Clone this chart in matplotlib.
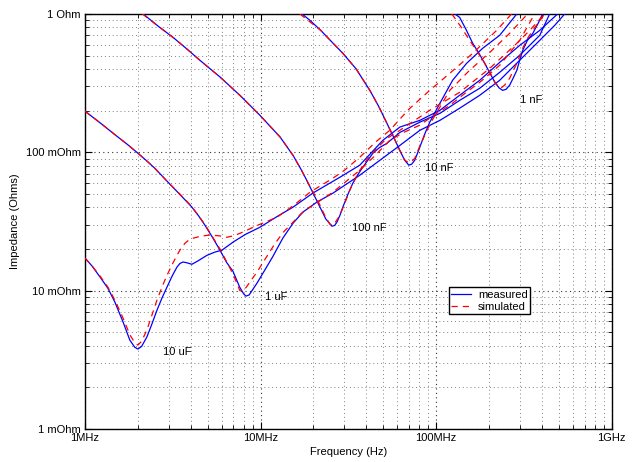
import matplotlib
matplotlib.use('Agg')
import matplotlib.pyplot as plt
import numpy as np
from matplotlib.ticker import FixedLocator, FixedFormatter, LogLocator, NullFormatter

plt.rcParams['font.family'] = ['Liberation Sans', 'DejaVu Sans']

# frequency in MHz, impedance in mOhm
f_10u_meas = [1.00, 1.10, 1.22, 1.35, 1.48, 1.65, 1.80, 1.92, 2.00, 2.10, 2.25, 2.40, 2.57,
              2.75, 2.93, 3.14, 3.34, 3.47, 3.61, 3.80, 4.06, 4.40, 4.95, 5.5, 6.02, 7.0,
              8.2, 9.91, 12.5, 15.3, 19.8, 28.3, 36.7, 49.7, 62.1, 80.7, 105, 136, 177,
              230, 299, 389, 492]
z_10u_meas = [17.2, 15.0, 12.5, 10.4, 8.26, 5.9, 4.39, 3.9, 3.78, 3.95, 4.62, 5.7, 7.23,
              8.9, 10.6, 12.8, 14.8, 15.7, 16.1, 15.9, 15.5, 16.4, 18.0, 19.0, 19.6, 22.5,
              25.5, 28.7, 34.5, 40.1, 50.6, 66.0, 80.6, 122, 152, 170, 201, 258, 331,
              446, 592, 760, 1000]
f_10u_sim = [1.00, 1.10, 1.22, 1.35, 1.48, 1.65, 1.80, 1.90, 2.00, 2.10, 2.25, 2.40, 2.57,
             2.75, 2.93, 3.14, 3.34, 3.52, 3.71, 3.90, 4.12, 4.6, 5.15, 5.8, 6.43, 7.1,
             7.93, 9.5, 12.4, 15.5, 19.1, 25.8, 30.0, 36.7, 45.0, 54.4, 70.0, 91.9, 119.5,
             161.5, 221, 269]
z_10u_sim = [17.2, 15.0, 12.7, 10.6, 8.54, 6.3, 4.8, 4.3, 4.04, 4.3, 5.19, 6.6, 8.54,
             10.7, 12.9, 15.5, 18.0, 20.2, 22.0, 23.2, 23.9, 24.8, 25.2, 24.9, 24.3, 25.0,
             26.5, 29.5, 33.9, 41.5, 51.4, 64.9, 74.0, 92.0, 118, 144, 205, 280, 372,
             519, 760, 1000]

f_1u_meas = [1.00, 1.22, 1.48, 1.75, 2.00, 2.25, 2.5, 2.98, 3.5, 4.05, 4.45, 4.82, 5.35,
             5.87, 6.4, 6.96, 7.6, 8.0, 8.25, 8.6, 9.53, 11.7, 13.4, 15.3, 17.4, 20.9,
             25.8, 36.7, 47.8, 62.1, 80.7, 105, 136, 177, 230, 299, 389, 473, 540]
z_1u_meas = [198, 163, 134, 113.5, 98.5, 86.5, 76.5, 60.5, 49.0, 40.3, 34.5, 29.7, 24,
             19.6, 16.0, 13.8, 10.6, 9.5, 9.13, 9.3, 11.3, 17.5, 24, 30.7, 36.9, 43.6,
             50.6, 68.2, 87.5, 112, 144, 170, 208, 258, 331, 462, 644, 826, 1000]
f_1u_sim = [1.00, 1.22, 1.48, 1.75, 2.00, 2.25, 2.5, 2.98, 3.5, 4.05, 4.82, 5.87, 6.5,
            6.96, 7.3, 7.62, 7.9, 8.25, 8.8, 9.53, 10.8, 12.1, 13.6, 15.3, 17.0, 19.1,
            25.8, 36.7, 45.0, 54.4, 66.0, 80.7, 100, 119.5, 145, 177, 230, 299, 364]
z_1u_sim = [198, 163, 134, 113.5, 98.5, 86.5, 76.5, 60.5, 49.3, 40.6, 30.0, 20.0, 15.6,
            13.2, 11.4, 10.0, 9.9, 10.5, 11.8, 13.6, 17.5, 22.0, 26.8, 31.2, 36.0, 40.1,
            51.4, 74.1, 95, 122, 140, 157, 190, 218, 265, 320, 425, 644, 1000]

f_100n_meas = [2.14, 2.6, 3.2, 3.8, 4.51, 5.87, 7.62, 9.91, 12.9, 15.3, 17.1, 18.3,
               20.0, 21.8, 23.5, 25.5, 26.4, 27.2, 28.3, 29.4, 31.5, 33.5, 35.8, 38.2,
               43.6, 47.5, 52.4, 62.1, 80.7, 105, 136, 177, 230, 299, 389, 443]
z_100n_meas = [1000, 818, 670, 558, 462, 350, 258, 185, 129, 95, 74.1, 62.8,
               50, 40.1, 33, 29.2, 29.6, 31.2, 35, 40.1, 50, 59.7, 69, 77.9,
               98.4, 108, 116, 139, 165, 191, 237, 290, 378, 502, 700, 1000]
f_100n_sim = [2.12, 2.6, 3.2, 3.8, 4.51, 5.87, 7.62, 9.91, 12.9, 15.3, 17.1, 18.3,
              20.0, 21.8, 23.3, 24.8, 25.8, 26.8, 28.3, 30.2, 32.2, 34.5, 36.7, 40.5,
              44.7, 52.0, 62.1, 91.9, 136, 202, 280, 341, 415]
z_100n_sim = [1000, 818, 670, 558, 462, 350, 258, 185, 129, 95, 74.1, 62.8,
              51, 41.4, 34.5, 30.2, 29.7, 31.5, 35.1, 43, 53.2, 64, 74.1, 89,
              103, 125, 144, 201, 271, 404, 592, 760, 1000]

f_10n_meas = [17.2, 19.1, 22.0, 25.5, 29.4, 35.0, 41.9, 47.0, 52.4, 57.0, 62.1, 66.0, 69.8,
              72.5, 75.5, 80.7, 86.0, 91.9, 105, 124, 149, 184, 230, 288]
z_10n_meas = [1000, 898, 760, 625, 519, 400, 280, 215, 162, 130, 103, 88, 80.6,
              82, 87.5, 109, 135, 165, 226, 331, 439, 564, 700, 1000]
f_10n_sim = [16.7, 19.0, 22.0, 25.5, 29.4, 35.0, 41.9, 47.0, 52.4, 57.0, 62.1, 66.0, 68.9,
             72.0, 75.5, 80.0, 86.1, 93.0, 101, 119.5, 155, 202, 262, 332]
z_10n_sim = [1000, 880, 760, 625, 519, 400, 280, 215, 162, 130, 103, 88, 84.7,
             85, 90.5, 108, 133, 163, 195, 280, 391, 527, 723, 1000]

f_1n_meas = [127.6, 136, 148, 161.5, 175, 189, 203, 216, 228, 239, 250, 262, 275, 288,
             300, 311, 330, 355, 380, 404]
z_1n_meas = [1000, 943, 770, 612, 520, 439, 370, 320, 292, 280, 285, 305, 345, 391,
             470, 545, 640, 723, 850, 1000]
f_1n_sim = [122.7, 138, 155, 172, 189, 203, 216, 225, 233, 245, 262, 275, 288, 311,
            330, 355, 415]
z_1n_sim = [1000, 810, 644, 530, 439, 375, 320, 300, 290, 305, 342, 390, 439, 564,
            660, 760, 1000]

labels = ['10 uF', '1 uF', '100 nF', '10 nF', '1 nF']
label_f = [2.78, 10.6, 33.1, 86.1, 299]      # MHz
label_z = [3.6, 8.98, 28.3, 76.6, 237]       # mOhm

measured = [(f_10u_meas, z_10u_meas), (f_1u_meas, z_1u_meas), (f_100n_meas, z_100n_meas),
            (f_10n_meas, z_10n_meas), (f_1n_meas, z_1n_meas)]
simulated = [(f_10u_sim, z_10u_sim), (f_1u_sim, z_1u_sim), (f_100n_sim, z_100n_sim),
             (f_10n_sim, z_10n_sim), (f_1n_sim, z_1n_sim)]

fig = plt.figure(figsize=(6.32, 4.62), dpi=100)
ax = fig.add_axes([0.1345, 0.0714, 0.8335, 0.8986])

for i, (f, z) in enumerate(measured):
    ax.plot(np.array(f) * 1e6, np.array(z) * 1e-3, color='#0000ff', lw=0.9,
            label='measured' if i == 0 else None, zorder=3)
for i, (f, z) in enumerate(simulated):
    ax.plot(np.array(f) * 1e6, np.array(z) * 1e-3, color='#ff0000', lw=0.9,
            linestyle=(0, (5, 4)), label='simulated' if i == 0 else None, zorder=4)

for t, f, z in zip(labels, label_f, label_z):
    ax.text(f * 1e6, z * 1e-3, t, fontsize=8, ha='left', va='center')

ax.set_xscale('log')
ax.set_yscale('log')
ax.set_xlim(1e6, 1e9)
ax.set_ylim(1e-3, 1)

ax.xaxis.set_major_locator(FixedLocator([1e6, 1e7, 1e8, 1e9]))
ax.xaxis.set_major_formatter(FixedFormatter(['1MHz', '10MHz', '100MHz', '1GHz']))
ax.yaxis.set_major_locator(FixedLocator([1e-3, 1e-2, 1e-1, 1]))
ax.yaxis.set_major_formatter(FixedFormatter(['1 mOhm', '10 mOhm', '100 mOhm', '1 Ohm']))
for a in (ax.xaxis, ax.yaxis):
    a.set_minor_locator(LogLocator(base=10, subs=np.arange(2, 10)))
    a.set_minor_formatter(NullFormatter())

ax.tick_params(which='both', direction='in', top=True, right=True, labelsize=8, pad=3)
ax.tick_params(which='major', length=5, width=0.8)
ax.tick_params(which='minor', length=3, width=0.6)

ax.grid(which='major', linestyle=(0, (1, 3)), color='0.2', lw=0.8)
ax.grid(which='minor', linestyle=(0, (1, 3)), color='0.5', lw=0.7)

for s in ax.spines.values():
    s.set_linewidth(1.0)

ax.set_xlabel('Frequency (Hz)', fontsize=8, labelpad=3)
ax.set_ylabel('Impedance (Ohms)', fontsize=8, labelpad=4)

leg = ax.legend(loc='lower left', bbox_to_anchor=(0.691, 0.277), fontsize=8,
                frameon=True, fancybox=False, framealpha=1, edgecolor='black',
                handlelength=1.8, borderpad=0.2, labelspacing=0.2, handletextpad=0.6,
                borderaxespad=0)
leg.get_frame().set_linewidth(1.0)

fig.savefig('out.png', dpi=100)
